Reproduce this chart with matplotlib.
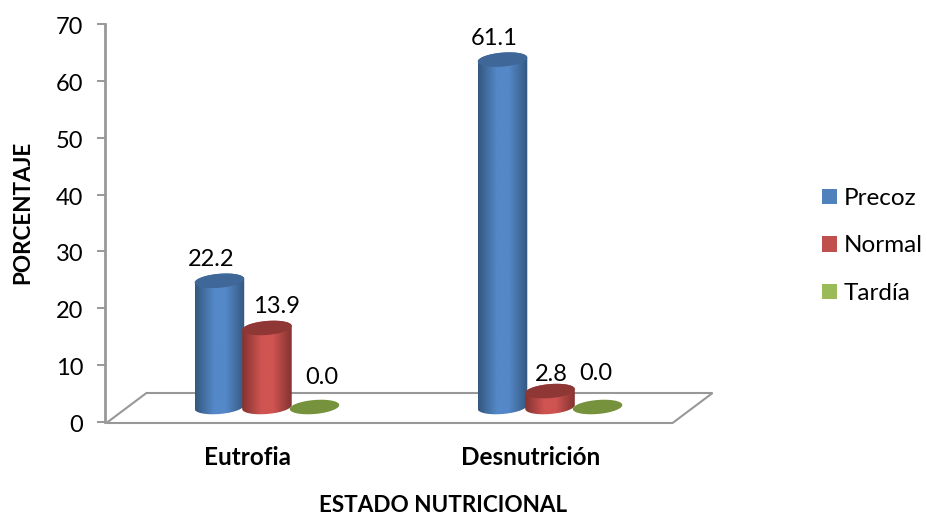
import numpy as np
import matplotlib
matplotlib.use("Agg")
import matplotlib.pyplot as plt
from matplotlib.colors import LinearSegmentedColormap
from matplotlib.patches import Patch, Polygon
from matplotlib.transforms import ScaledTranslation

# Chart values
categories = ["Eutrofia", "Desnutrición"]
series_names = ["Precoz", "Normal", "Tardía"]
precoz = [22.2, 61.1]
normal = [13.9, 2.8]
tardia = [0.0, 0.0]
y_ticks = [0, 10, 20, 30, 40, 50, 60, 70]

# Per-label shift in pixels from the top centre of each cylinder
label_shift = {
    "Precoz": [(-8, 21), (-8, 21)],
    "Normal": [(10, 21), (1, 17)],
    "Tardía": [(7, 29), (-2, 34)],
}

W, H = 927, 515
plt.rcParams["font.family"] = ["Lato", "DejaVu Sans"]
TEXT = "#000000"
AXIS = "#989898"

fig = plt.figure(figsize=(W / 100, H / 100), dpi=100)
left, right, top, bottom = 105, 672, 24, 422
ax = fig.add_axes([left / W, 1 - bottom / H, (right - left) / W, (bottom - top) / H])
XLIM = (-0.505, 1.498)
ax.set_ylim(0, 70)
ax.set_xlim(*XLIM)
PX_X = 1 / 283
PX_Y = 70 / (bottom - top)

palette = {
    "Precoz": dict(edge="#34587f", mid="#5488c8", top="#3f6798", flat="#4f81bd"),
    "Normal": dict(edge="#843230", mid="#cf5452", top="#8f3735", flat="#c0504d"),
    "Tardía": dict(edge="#76923c", mid="#76923c", top="#76923c", flat="#9bbb59"),
}

BAR_W = 49.5 * PX_X
STEP = 47.5 * PX_X
SHIFT_X = 19 * PX_X     # floor depth of the bars, sideways
SHIFT_Y = 15 * PX_Y     # floor depth of the bars, upward
RY = 7 * PX_Y
SHEAR = 0.08 * (PX_Y / PX_X)

# Floor parallelogram
fx0, fx1 = -0.5, 1.5
fy = -1 * PX_Y
dx, dy = 40 * PX_X, 30 * PX_Y
ax.add_patch(Polygon([(fx0, fy), (fx1, fy), (fx1 + dx, fy + dy), (fx0 + dx, fy + dy)],
                     closed=True, fill=False, ec=AXIS, lw=1.5, clip_on=False, zorder=1))


def ring(cx, cy, t):
    a = BAR_W / 2
    return np.c_[cx + a * np.cos(t), cy + RY * np.sin(t) + SHEAR * a * np.cos(t)]


def cylinder(cx, value, name):
    c = palette[name]
    base = SHIFT_Y
    if value > 0:
        up = value + base
        t_front = np.linspace(np.pi, 2 * np.pi, 60)
        t_back = np.linspace(0, np.pi, 60)
        outline = np.r_[ring(cx, base, t_front), ring(cx, up, t_back)]
        shell = Polygon(outline, closed=True, fc="none", ec="none", zorder=3)
        ax.add_patch(shell)
        cmap = LinearSegmentedColormap.from_list(
            name, [(0, c["edge"]), (0.38, c["mid"]), (0.62, c["mid"]), (1, c["edge"])])
        shade = np.linspace(0, 1, 128)[None, :]
        img = ax.imshow(shade, cmap=cmap, aspect="auto", zorder=3, interpolation="bilinear",
                        extent=(cx - BAR_W / 2, cx + BAR_W / 2, base - 2 * RY, up + 2 * RY))
        img.set_clip_path(shell)
    else:
        up = base
    cap = Polygon(ring(cx, up, np.linspace(0, 2 * np.pi, 120)), closed=True,
                  fc=c["top"], ec="none", zorder=4)
    ax.add_patch(cap)
    return up


for offset, name, values in zip((-1, 0, 1), series_names, (precoz, normal, tardia)):
    for i, v in enumerate(values):
        cx = i + SHIFT_X + offset * STEP
        up = cylinder(cx, v, name)
        ax.annotate(f"{v:.1f}", (cx, up), xytext=label_shift[name][i],
                    textcoords="offset pixels", ha="center", va="center",
                    fontsize=17, color=TEXT, zorder=6, annotation_clip=False)

ax.set_ylim(0, 70)
ax.set_xlim(*XLIM)
ax.set_xticks(range(len(categories)), categories, fontsize=17.5, fontweight="bold", color=TEXT)
ax.set_yticks(y_ticks, [str(v) for v in y_ticks], fontsize=17, color=TEXT, va="center_baseline")
ax.tick_params(axis="x", length=0, pad=17)
ax.tick_params(axis="y", length=5.5, width=1.4, color=AXIS, pad=10)
# Nudge the value labels slightly below their tick marks
nudge = ScaledTranslation(0, -1.5 / 100, fig.dpi_scale_trans)
for lbl in ax.get_yticklabels():
    lbl.set_transform(lbl.get_transform() + nudge)
for s in ("top", "right", "bottom"):
    ax.spines[s].set_visible(False)
ax.spines["left"].set_color(AXIS)
ax.spines["left"].set_linewidth(2)
ax.patch.set_alpha(0)

fig.text(443 / W, 1 - 511.5 / H, "ESTADO NUTRICIONAL", fontsize=16.2, fontweight="bold",
         ha="center", va="baseline", color=TEXT)
fig.text(23 / W, 1 - 212 / H, "PORCENTAJE", fontsize=16.2, fontweight="bold",
         rotation=90, ha="center", va="center", color=TEXT)

handles = [Patch(fc=palette[n]["flat"], ec="none", label=n) for n in series_names]
fig.legend(handles=handles, loc="center left", bbox_to_anchor=(822 / W, 1 - 246 / H),
           frameon=False, fontsize=17.5, handlelength=0.62, handleheight=0.62,
           handletextpad=0.27, labelspacing=1.09, borderpad=0, borderaxespad=0,
           labelcolor=TEXT)

fig.savefig("out.png", dpi=100)
